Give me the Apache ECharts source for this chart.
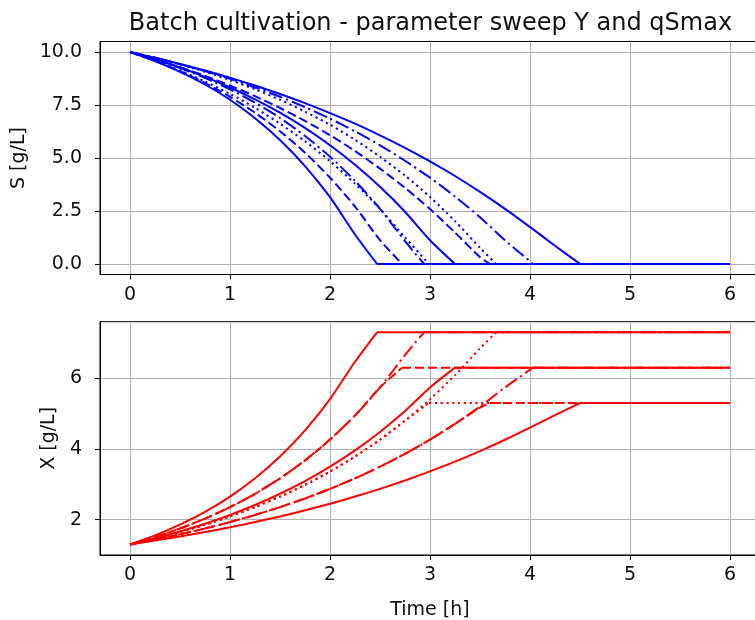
<!DOCTYPE html>
<html><head><meta charset="utf-8">
<script src="https://cdn.jsdelivr.net/npm/echarts@6/dist/echarts.min.js"></script>
<style>html,body{margin:0;padding:0;background:#fff}#c{width:755px;height:620px}</style>
</head><body><div id="c"></div>
<script>
// sample times (h) for the growth phase
const TIME = [0,0.25,0.5,0.75,1,1.25,1.5,1.75,2,2.25,2.5,2.75,3,3.25,3.5,3.75,4,4.25];
const T_END = 6;
const X_TICKS = [0,1,2,3,4,5,6];
const S_TICKS = [0,2.5,5,7.5,10];
const XB_TICKS = [2,4,6];

// curve order: (Y, qSmax) = (0.4,0.8) (0.4,1.0) (0.4,1.2) (0.5,0.8) (0.5,1.0) (0.5,1.2) (0.6,0.8) (0.6,1.0) (0.6,1.2)
const STYLE = ['solid','dashed','dotted','dashdot','solid','dashed','dotted','dashdot','solid'];
const T_DEPLETION = [4.5, 3.6, 2.99, 4.03, 3.25, 2.72, 3.66, 2.94, 2.47];
const X_FINAL = [5.3, 5.3, 5.3, 6.3, 6.3, 6.3, 7.3, 7.3, 7.3];

const S0 = [10,9.73,9.44,9.13,8.79,8.42,8.02,7.59,7.12,6.62,6.07,5.48,4.84,4.15,3.40,2.60,1.74,0.86];
const S1 = [10,9.66,9.29,8.88,8.42,7.92,7.36,6.75,6.08,5.33,4.50,3.59,2.59,1.48,0.32];
const S2 = [10,9.59,9.13,8.61,8.03,7.37,6.62,5.79,4.85,3.79,2.60,1.25];
const S3 = [10,9.73,9.43,9.10,8.74,8.33,7.89,7.40,6.86,6.26,5.60,4.87,4.07,3.18,2.20,1.12];
const S4 = [10,9.66,9.27,8.83,8.33,7.77,7.14,6.42,5.60,4.68,3.64,2.46,1.12];
const S5 = [10,9.58,9.10,8.54,7.89,7.14,6.26,5.25,4.07,2.71,1.12];
const S6 = [10,9.73,9.42,9.07,8.68,8.24,7.75,7.19,6.57,5.86,5.06,4.17,3.16,2.02,0.76];
const S7 = [10,9.65,9.25,8.78,8.24,7.61,6.89,6.04,5.06,3.92,2.60,1.07];
const S8 = [10,9.58,9.07,8.47,7.75,6.88,5.85,4.62,3.15,1.39];

const X0 = [1.300,1.407,1.523,1.649,1.785,1.932,2.091,2.264,2.451,2.653,2.871,3.108,3.365,3.640,3.940,4.260,4.604,4.956];
const X1 = [1.300,1.435,1.585,1.750,1.932,2.133,2.355,2.600,2.870,3.169,3.499,3.863,4.265,4.709,5.172];
const X2 = [1.300,1.464,1.648,1.856,2.090,2.354,2.651,2.985,3.361,3.785,4.262,4.800];
const X3 = [1.300,1.435,1.585,1.750,1.932,2.133,2.355,2.600,2.870,3.169,3.499,3.863,4.265,4.709,5.199,5.740];
const X4 = [1.300,1.471,1.665,1.884,2.133,2.414,2.732,3.091,3.499,3.960,4.481,5.071,5.740];
const X5 = [1.300,1.508,1.750,2.030,2.355,2.732,3.169,3.676,4.265,4.947,5.739];
const X6 = [1.300,1.464,1.648,1.856,2.090,2.354,2.651,2.985,3.361,3.785,4.262,4.800,5.405,6.087,6.844];
const X7 = [1.300,1.508,1.750,2.030,2.355,2.732,3.169,3.676,4.265,4.947,5.739,6.658];
const X8 = [1.300,1.554,1.857,2.219,2.652,3.170,3.788,4.527,5.411,6.466];

const S_SERIES = [S0,S1,S2,S3,S4,S5,S6,S7,S8];
const X_SERIES = [X0,X1,X2,X3,X4,X5,X6,X7,X8];

const FONT = 'DejaVu Sans';
const TXT = '#111';
const FS = 19;
const DASH = {solid:'solid', dashed:[9,4], dotted:[2.2,3.6], dashdot:[14,4,2.2,4]};

const series = [];
function addCurve(vals, tDep, last, axis, color, style) {
  const grow = vals.map((v,i) => [TIME[i], v]);
  grow.push([tDep, last]);
  const ls = {color:color, width:2, type:DASH[style], cap:'butt'};
  series.push({type:'line', xAxisIndex:axis, yAxisIndex:axis, data:grow, smooth:0.25,
    showSymbol:false, symbol:'none', silent:true, animation:false, lineStyle:ls});
  series.push({type:'line', xAxisIndex:axis, yAxisIndex:axis, data:[[tDep,last],[T_END,last]],
    showSymbol:false, symbol:'none', silent:true, animation:false, lineStyle:ls});
}
S_SERIES.forEach((s,i) => addCurve(s, T_DEPLETION[i], 0, 0, '#0000ff', STYLE[i]));
X_SERIES.forEach((s,i) => addCurve(s, T_DEPLETION[i], X_FINAL[i], 1, '#ff0000', STYLE[i]));

function xAxis(idx, name) {
  return {type:'value', gridIndex:idx, min:-0.3, max:6.3,
    axisLine:{show:true, onZero:false, lineStyle:{color:'#000', width:1}},
    axisTick:{show:true, inside:false, length:5, customValues:X_TICKS, lineStyle:{color:'#000'}},
    axisLabel:{customValues:X_TICKS, margin:11, fontFamily:FONT, fontSize:FS, color:TXT, formatter:v=>String(v)},
    splitLine:{show:true, lineStyle:{color:'#b0b0b0', width:1}},
    name:name, nameLocation:'middle', nameGap:46, nameTextStyle:{fontFamily:FONT, fontSize:FS, color:TXT}};
}
function yAxis(idx, min, max, ticks, fmt, name, gap) {
  return {type:'value', gridIndex:idx, min:min, max:max,
    axisLine:{show:true, onZero:false, lineStyle:{color:'#000', width:1}},
    axisTick:{show:true, inside:false, length:5, customValues:ticks, lineStyle:{color:'#000'}},
    axisLabel:{customValues:ticks, margin:18, fontFamily:FONT, fontSize:FS, color:TXT, formatter:fmt},
    splitLine:{show:true, lineStyle:{color:'#b0b0b0', width:1}},
    name:name, nameLocation:'middle', nameGap:gap, nameRotate:90,
    nameTextStyle:{fontFamily:FONT, fontSize:FS, color:TXT}};
}

const chart = echarts.init(document.getElementById('c'), null, {renderer:'canvas'});
chart.setOption({
  animation:false,
  backgroundColor:'#fff',
  title:{text:'Batch cultivation - parameter sweep Y and qSmax', left:430.5, top:12, textAlign:'center', padding:0,
    textStyle:{fontFamily:FONT, fontSize:24, fontWeight:'normal', color:TXT}},
  grid:[
    {left:100, top:41.5, width:660, height:233, show:true, borderColor:'#000', borderWidth:1, containLabel:false, outerBoundsMode:'none'},
    {left:100, top:321.7, width:660, height:233.3, show:true, borderColor:'#000', borderWidth:1, containLabel:false, outerBoundsMode:'none'}
  ],
  xAxis:[xAxis(0,''), xAxis(1,'Time [h]')],
  yAxis:[
    yAxis(0,-0.5,10.5,S_TICKS,v=>v.toFixed(1),'S [g/L]',69),
    yAxis(1,1.0,7.6,XB_TICKS,v=>String(v),'X [g/L]',38)
  ],
  series:series
});
</script>
</body></html>
